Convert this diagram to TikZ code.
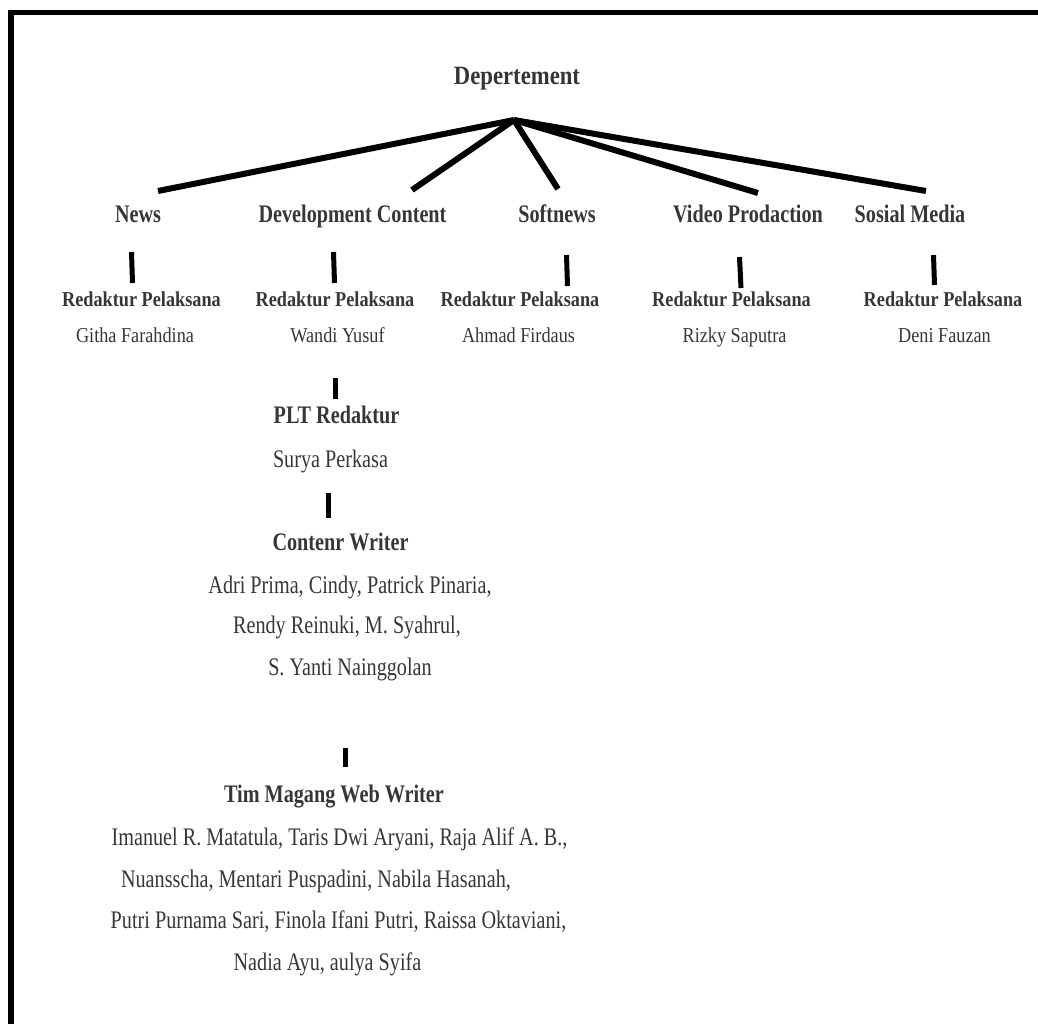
\documentclass[tikz,border=0pt]{standalone}
\usepackage{fontspec}
\setmainfont{Liberation Serif}
\newfontfamily\mainf[FakeStretch=0.8]{Liberation Serif}
\newfontfamily\smallf[FakeStretch=0.86]{Liberation Serif}
\newfontfamily\topf[FakeStretch=0.86]{Liberation Serif}
\definecolor{txt}{HTML}{363636}
\begin{document}
\begin{tikzpicture}[x=1pt,y=-1pt,
  lbl/.style={anchor=base,inner sep=0pt,text=txt},
  head/.style={lbl,font=\mainf\bfseries\fontsize{25.25}{30}\selectfont},
  body/.style={lbl,font=\mainf\fontsize{25.25}{30}\selectfont},
  shead/.style={lbl,font=\smallf\bfseries\fontsize{21.2}{25}\selectfont},
  sbody/.style={lbl,font=\smallf\fontsize{21.2}{25}\selectfont},
  tophead/.style={lbl,font=\topf\bfseries\fontsize{26.4}{31}\selectfont},
  conn/.style={line width=6pt,black},
  tick/.style={line width=5pt,black},
  frame/.style={line width=5.5pt,black}]
\useasboundingbox (0,0) rectangle (1038,1024);
% frame
\coordinate (fA) at (11,1030);
\coordinate (fB) at (11,12.5);
\coordinate (fC) at (1045,12.5);
\draw[frame] (fA) -- (fB) -- (fC);

% top
\node[tophead] (dep) at (517,85) {Depertement};
\coordinate (apex) at (514,120);

% level 2
\node[head] (news) at (138,223) {News};
\node[head] (dev) at (352.5,223) {Development Content};
\node[head] (soft) at (557,223) {Softnews};
\node[head] (video) at (748,223) {Video Prodaction};
\node[head] (sosial) at (910,223) {Sosial Media};

\coordinate (eNews) at (158,191);
\coordinate (eDev) at (412,190);
\coordinate (eSoft) at (558,189);
\coordinate (eVideo) at (758,193);
\coordinate (eSosial) at (926,191);
\foreach \e in {eNews,eDev,eSoft,eVideo,eSosial}
  \draw[conn] (apex) -- (\e);

% level 3
\node[shead] (r1) at (141.5,306) {Redaktur Pelaksana};
\node[sbody] (n1) at (135,342) {Githa Farahdina};
\node[shead] (r2) at (335,306) {Redaktur Pelaksana};
\node[sbody] (n2) at (337.5,342) {Wandi Yusuf};
\node[shead] (r3) at (520,306) {Redaktur Pelaksana};
\node[sbody] (n3) at (518.5,342) {Ahmad Firdaus};
\node[shead] (r4) at (731.5,306) {Redaktur Pelaksana};
\node[sbody] (n4) at (734.5,342) {Rizky Saputra};
\node[shead] (r5) at (943,306) {Redaktur Pelaksana};
\node[sbody] (n5) at (944.5,342) {Deni Fauzan};

\coordinate (t1a) at (131.5,252); \coordinate (t1b) at (132.5,283);
\coordinate (t2a) at (333.5,252); \coordinate (t2b) at (334.5,283);
\coordinate (t3a) at (566.5,255); \coordinate (t3b) at (567.5,286);
\coordinate (t4a) at (739.5,257); \coordinate (t4b) at (741,288);
\coordinate (t5a) at (933.5,255); \coordinate (t5b) at (934.5,285);
\draw[tick] (t1a) -- (t1b);
\draw[tick] (t2a) -- (t2b);
\draw[tick] (t3a) -- (t3b);
\draw[tick] (t4a) -- (t4b);
\draw[tick] (t5a) -- (t5b);

% development chain
\coordinate (d1a) at (335,378); \coordinate (d1b) at (335,399);
\draw[tick] (d1a) -- (d1b);
\node[head] (plt) at (336.5,423) {PLT Redaktur};
\node[body] (surya) at (330.5,467) {Surya Perkasa};

\coordinate (d2a) at (328,493); \coordinate (d2b) at (328,518);
\draw[tick] (d2a) -- (d2b);
\node[head] (cw) at (340.5,550) {Contenr Writer};
\node[body] (cw1) at (350,593) {Adri Prima, Cindy, Patrick Pinaria,};
\node[body] (cw2) at (347,633) {Rendy Reinuki, M. Syahrul,};
\node[body] (cw3) at (350,675) {S. Yanti Nainggolan};

\coordinate (d3a) at (345,748); \coordinate (d3b) at (345,767);
\draw[tick] (d3a) -- (d3b);
\node[head] (tim) at (334,802) {Tim Magang Web Writer};
\node[body] (tm1) at (339.5,845) {Imanuel R. Matatula, Taris Dwi Aryani, Raja Alif A. B.,};
\node[body] (tm2) at (316,887) {Nuansscha, Mentari Puspadini, Nabila Hasanah,};
\node[body] (tm3) at (338.5,928) {Putri Purnama Sari, Finola Ifani Putri, Raissa Oktaviani,};
\node[body] (tm4) at (327.5,970) {Nadia Ayu, aulya Syifa};
\end{tikzpicture}
\end{document}
